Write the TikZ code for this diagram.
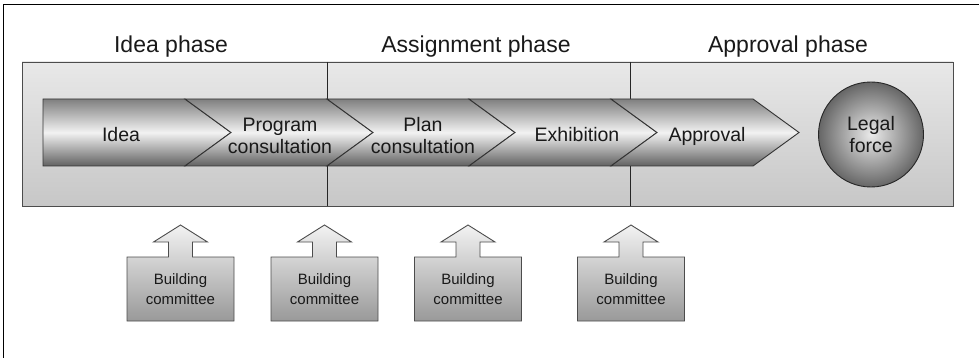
\documentclass[tikz,border=0pt]{standalone}
\usepackage{fontspec}
\setmainfont{Liberation Sans}
\begin{document}
\begin{tikzpicture}[x=1pt,y=-1pt,
  title/.style={font=\fontsize{23}{27}\selectfont, text=black!90, inner sep=0pt},
  chevtext/.style={font=\fontsize{19.5}{22}\selectfont, align=center, text=black!90, inner sep=0pt},
  bctext/.style={font=\fontsize{15}{19.5}\selectfont, align=center, text=black!90, inner sep=0pt},
  chev/.style={draw=black!80, line width=0.9pt, top color=black!50, bottom color=black!62, middle color=black!5},
  panel/.style={draw=black!70, line width=0.9pt, top color=black!9, bottom color=black!22},
  divider/.style={draw=black!85, line width=0.9pt},
  bcshape/.style={draw=black!70, line width=0.9pt, top color=black!5, bottom color=black!40},
  frame/.style={draw=black, line width=1.2pt}
]
\useasboundingbox (0,0) rectangle (979,358);
% frame (top and left)
\draw[frame] (3.5,358) -- (3.5,4.5) -- (979,4.5);
% panel
\path[panel] (22,62) rectangle (953,206);
\draw[divider] (327,62) -- (327,206);
\draw[divider] (630,62) -- (630,206);
% phase titles
\node[title] (t1) at (171,47) {Idea phase};
\node[title] (t2) at (476,47) {Assignment phase};
\node[title] (t3) at (788,47) {Approval phase};
% chevrons
\path[chev] (43,99) -- (185,99) -- (231,132.5) -- (185,166) -- (43,166) -- cycle;
\foreach \s in {185,327,469,611}{
  \path[chev] (\s,99) -- (\s+142,99) -- (\s+188,132.5) -- (\s+142,166) -- (\s,166) -- (\s+46,132.5) -- cycle;
}
\node[chevtext] (c1) at (121,135) {Idea};
\node[chevtext] (c2) at (280,135.5) {Program\\consultation};
\node[chevtext] (c3) at (423,135.5) {Plan\\consultation};
\node[chevtext] (c4) at (577,135) {Exhibition};
\node[chevtext] (c5) at (707,136.5) {Approval};
% legal force
\node[circle, draw=black!85, line width=0.9pt, minimum size=105pt, inner color=black!8, outer color=black!60,
      chevtext] (lf) at (871,134.5) {Legal\\force};
% building committee blocks
\foreach \cx/\nm in {180.5/b1,324.5/b2,468/b3,631/b4}{
  \path[bcshape] (\cx-53.5,321) -- (\cx-53.5,257) -- (\cx-12,257) -- (\cx-12,242) -- (\cx-27,242)
     -- (\cx,225) -- (\cx+27,242) -- (\cx+12,242) -- (\cx+12,257) -- (\cx+53.5,257) -- (\cx+53.5,321) -- cycle;
  \node[bctext] (\nm) at (\cx,289) {Building\\committee};
}
\end{tikzpicture}
\end{document}
